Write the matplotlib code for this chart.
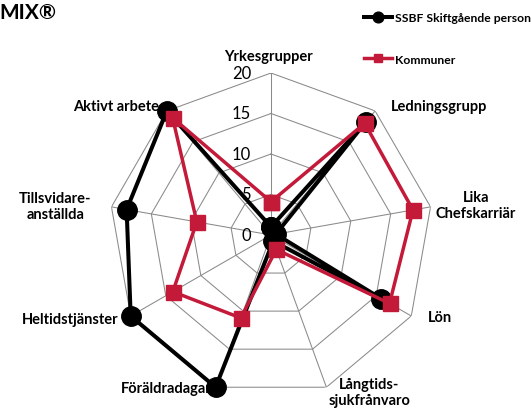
import numpy as np
import matplotlib
matplotlib.use("Agg")
import matplotlib.pyplot as plt

categories = ["Yrkesgrupper", "Ledningsgrupp", "Lika\nChefskarriär", "Lön",
              "Långtids-\nsjukfrånvaro", "Föräldradagar", "Heltidstjänster",
              "Tillsvidare-\nanställda", "Aktivt arbete"]
ssbf = [1.0, 18.2, 0.6, 15.7, 0.8, 20.0, 20.0, 18.1, 20.0]
kommuner = [4.1, 18.0, 17.8, 16.9, 1.9, 10.9, 14.0, 9.3, 18.9]
series_names = ["SSBF Skiftgående personal", "Kommuner"]
levels = [0, 5, 10, 15, 20]
level_labels = ["0", "5", "10", "15", "20"]
title_text = "MIX®"

# label layout: (offset_x px, offset_y px (up), ha)
label_layout = [(-3, 17, "center"), (16, 5, "left"), (5, 2, "left"), (17, -1, "left"),
                (43, -5, "center"), (-4, -1, "right"), (-12, -3, "right"),
                (-20, 1, "right"), (-8, 5, "right")]

W, H = 531, 410
fig = plt.figure(figsize=(W / 100, H / 100), dpi=100)
cx, cy, R = 271, 236, 162
ax = fig.add_axes([(cx - R) / W, (H - cy - R) / H, 2 * R / W, 2 * R / H], projection="polar")
ax.set_theta_offset(np.pi / 2)
ax.set_theta_direction(-1)
ax.set_ylim(0, 20)
ax.set_xticks([])
ax.set_yticks([])
ax.grid(False)
ax.spines["polar"].set_visible(False)
ax.patch.set_alpha(0)

n = len(categories)
theta = np.linspace(0, 2 * np.pi, n, endpoint=False)
theta_c = np.append(theta, theta[0])

gcol = "#8a8a8a"
for lv in levels[1:]:
    ax.plot(theta_c, [lv] * (n + 1), color=gcol, lw=0.75, zorder=1)
for t in theta:
    ax.plot([t, t], [0, levels[-1]], color=gcol, lw=0.75, zorder=1)

red = "#C41A3A"
l1, = ax.plot(theta_c, ssbf + ssbf[:1], color="black", lw=2.9, marker="o",
              markersize=14, zorder=5, clip_on=False, label=series_names[0])
l2, = ax.plot(theta_c, kommuner + kommuner[:1], color=red, lw=2.5, marker="s",
              markersize=10.8, zorder=6, clip_on=False, label=series_names[1])

font = "Lato"
for t, lab, (ox, oy, ha) in zip(theta, categories, label_layout):
    ax.annotate(lab, xy=(t, levels[-1]), xytext=(ox * 0.72, oy * 0.72),
                textcoords="offset points", ha=ha, va="center", ma="center",
                fontsize=10.5, fontweight="bold", family=font, zorder=3,
                annotation_clip=False, linespacing=1.15)

for lv, txt in zip(levels, level_labels):
    ax.annotate(txt, xy=(0, lv), xytext=(-20 * 0.72, 0), textcoords="offset points",
                ha="right", va="center", fontsize=12, family=font, zorder=2,
                annotation_clip=False)

fig.text(-1 / W, 1 - 13 / H, title_text, ha="left", va="center", fontsize=15,
         fontweight="bold", family=font)

leg = fig.legend(handles=[l1, l2], labels=series_names, loc="upper left",
                 bbox_to_anchor=(364 / W, 1 - 13.5 / H), frameon=False,
                 borderpad=0, borderaxespad=0, handlelength=2.3, handletextpad=0.25,
                 labelspacing=2.5, markerscale=0.55,
                 prop={"family": font, "weight": "bold", "size": 8.7})

fig.savefig("out.png", dpi=100)
